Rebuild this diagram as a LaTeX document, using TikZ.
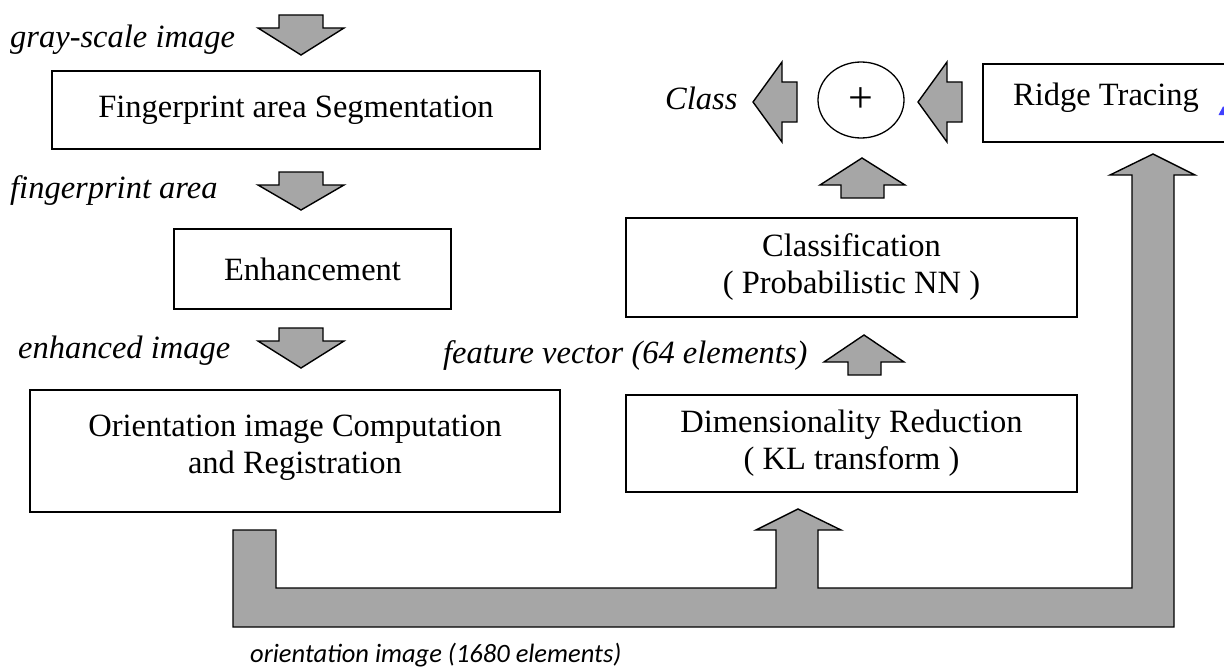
\documentclass[tikz,border=0pt]{standalone}
\usepackage{fontspec}
\setmainfont{Liberation Serif}[ItalicFont={Liberation Serif Italic}]
\newfontfamily\lblsans{Carlito}
\usetikzlibrary{shapes.geometric}
\tikzset{
  box/.style={draw, line width=1.6pt, inner sep=0pt, align=center, font=\fontsize{32.5}{37}\selectfont},
  boxtext/.style={inner sep=0pt, align=center, font=\fontsize{32.5}{37}\selectfont},
  lbl/.style={inner sep=0pt, anchor=base west, font=\fontsize{32.5}{37}\selectfont\itshape},
  blk/.style={fill=gray!70, draw=black, line width=1.4pt, line join=miter},
}
\begin{document}
\begin{tikzpicture}[x=1pt,y=-1pt]
\clip (0,0) rectangle (1224,669);
\useasboundingbox (0,0) rectangle (1224,669);
% boxes
\node[box, minimum width=488pt, minimum height=78pt] (seg) at (296,110) {Fingerprint area Segmentation};
\node[box, minimum width=277pt, minimum height=80pt] (enh) at (312.5,269) {Enhancement};
\node[box, minimum width=530pt, minimum height=122pt] (ori) at (295,451) {};
\node[boxtext] (oritext) at (295,448) {Orientation image Computation\\and Registration};
\node[box, minimum width=451pt, minimum height=99pt] (cls) at (851.5,267.5) {Classification\\( Probabilistic NN )};
\node[box, minimum width=451pt, minimum height=97pt] (dim) at (851.5,443.5) {Dimensionality Reduction\\( KL transform )};
\draw[line width=1.6pt] (1240,64) -- (983,64) -- (983,142) -- (1240,142);
\node[inner sep=0pt, anchor=base west, font=\fontsize{32.5}{37}\selectfont] (ridge) at (1013,105) {Ridge Tracing};
\node[draw, ellipse, line width=1.3pt, minimum width=86pt, minimum height=76pt, inner sep=0pt, font=\fontsize{44}{48}\selectfont] (sum) at (861,100) {+};
% labels
\node[lbl] (l1) at (10,48) {gray-scale image};
\node[lbl] (l2) at (10,198) {fingerprint area};
\node[lbl] (l3) at (18,358) {enhanced image};
\node[lbl] (l4) at (443,363) {feature vector (64 elements)};
\node[lbl] (l5) at (665,110) {Class};
\node[inner sep=0pt, anchor=base west, font=\fontsize{26.5}{32}\selectfont\lblsans\itshape] (l6) at (250,662) {orientation image (1680 elements)};
% down arrows
\foreach \t/\b/\p in {15/28/55, 172/185/210, 328/341/368}{
  \draw[blk] (279,\t) -- (323,\t) -- (323,\b) -- (344,\b) -- (301,\p) -- (258,\b) -- (279,\b) -- cycle;
}
% up arrow to sum
\draw[blk] (841,198) -- (841,185) -- (820,185) -- (862,158) -- (905,185) -- (884,185) -- (884,198) -- cycle;
% feature vector up arrow
\draw[blk] (848,375) -- (848,362) -- (824,362) -- (864,335) -- (904,362) -- (881,362) -- (881,375) -- cycle;
% left arrows
\draw[blk] (797,82) -- (782,82) -- (782,62) -- (753,102) -- (782,142) -- (782,122) -- (797,122) -- cycle;
\draw[blk] (962,82) -- (947,82) -- (947,62) -- (918,102) -- (947,142) -- (947,122) -- (962,122) -- cycle;
% big orientation arrow
\draw[blk] (233,530) -- (233,627) -- (1174,627) -- (1174,175) -- (1195,175) -- (1153,154) -- (1110,175) -- (1132,175)
  -- (1132,588) -- (818,588) -- (818,530) -- (841,530) -- (798,509) -- (756,530) -- (776,530) -- (776,588)
  -- (276,588) -- (276,530) -- cycle;
% blue fragment at edge
\fill[blue!75] (1218.5,115) -- (1223,106.5) -- (1224,106.5) -- (1224,115) -- cycle;
\end{tikzpicture}
\end{document}
